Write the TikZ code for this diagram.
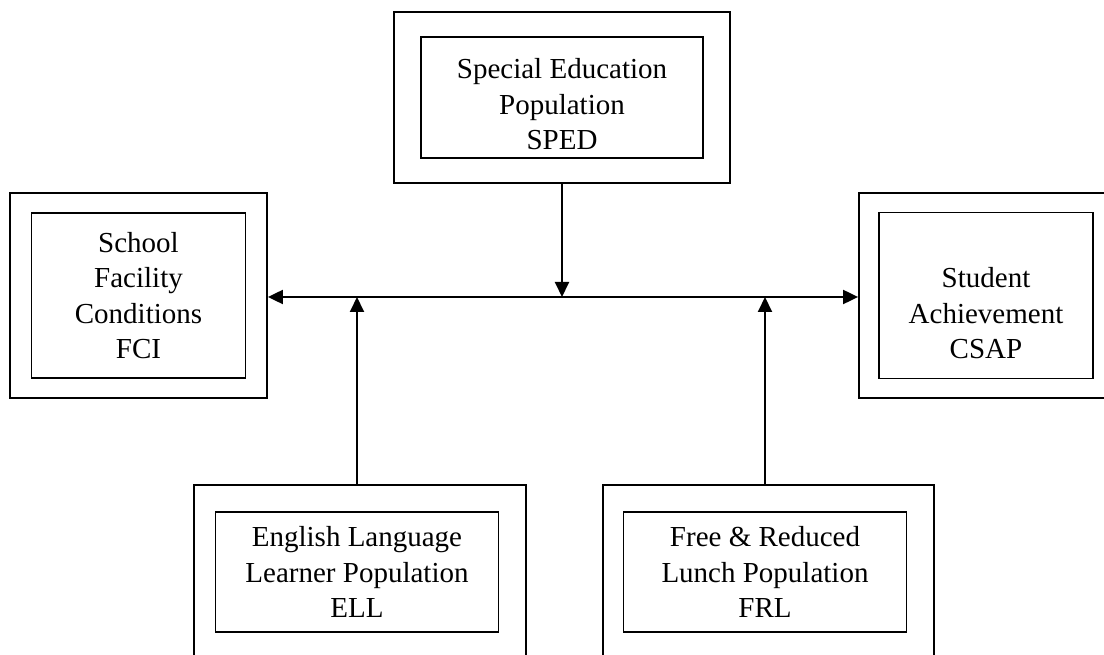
\documentclass[tikz,border=0pt]{standalone}
\usepackage{fontspec}
\setmainfont{Liberation Serif}
\usetikzlibrary{arrows.meta, positioning, calc}

\begin{document}
\begin{tikzpicture}[
    x=1pt, y=1pt,
    % Boxes
    outerbox/.style={rectangle, draw=black, line width=1.8pt, fill=white, inner sep=0pt},
    innerbox/.style={rectangle, draw=black, line width=1.8pt, inner sep=0pt},
    boxtext/.style={align=center, inner sep=0pt, font={\fontsize{29pt}{35.5pt}\selectfont}},
    % Connectors
    link/.style={line width=2pt, -{Triangle[length=15pt, width=14pt]}},
    biline/.style={line width=2pt, {Triangle[length=15pt, width=14pt]}-{Triangle[length=15pt, width=14pt]}},
]
\useasboundingbox (0,0) rectangle (1104,654);
\clip (0,0) rectangle (1104,654);

% 1. Special Education (top)
\node[outerbox, minimum width=336pt, minimum height=171pt] (sped) at (562,556.5) {};
\node[innerbox, minimum width=282pt, minimum height=121pt] (sped-in) at (sped.center) {};
\node[boxtext] (sped-txt) at ($(sped-in.center)+(0,-7)$) {Special Education\\Population\\SPED};

% 2. School Facility Conditions (left)
\node[outerbox, minimum width=257pt, minimum height=205pt] (fci) at (138.5,358.5) {};
\node[innerbox, minimum width=214pt, minimum height=165pt] (fci-in) at (fci.center) {};
\node[boxtext] (fci-txt) at (fci-in.center) {School\\Facility\\Conditions\\FCI};

% 3. Student Achievement (right)
\node[outerbox, minimum width=254pt, minimum height=205pt] (csap) at (986,358.5) {};
\node[innerbox, minimum width=214pt, minimum height=166pt] (csap-in) at (csap.center) {};
\node[boxtext] (csap-txt) at ($(csap-in.center)+(0,-18)$) {Student\\Achievement\\CSAP};

% 4. English Language Learner (bottom left)
\node[outerbox, minimum width=332pt, minimum height=174pt] (ell) at (360,82) {};
\node[innerbox, minimum width=283pt, minimum height=120pt] (ell-in) at (357,82) {};
\node[boxtext] (ell-txt) at (ell-in.center) {English Language\\Learner Population\\ELL};

% 5. Free & Reduced Lunch (bottom right)
\node[outerbox, minimum width=331pt, minimum height=174pt] (frl) at (768.5,82) {};
\node[innerbox, minimum width=283pt, minimum height=120pt] (frl-in) at (765,82) {};
\node[boxtext] (frl-txt) at (frl-in.center) {Free \& Reduced\\Lunch Population\\FRL};

% Connections
\coordinate (hub) at (562,357);
\draw[biline] (fci.east |- hub) -- (csap.west |- hub);
\draw[link] (sped.south) -- (sped.south |- hub);
\draw[link] (ell.north -| ell-in) -- (hub -| ell-in);
\draw[link] (frl.north -| frl-in) -- (hub -| frl-in);

\end{tikzpicture}
\end{document}
